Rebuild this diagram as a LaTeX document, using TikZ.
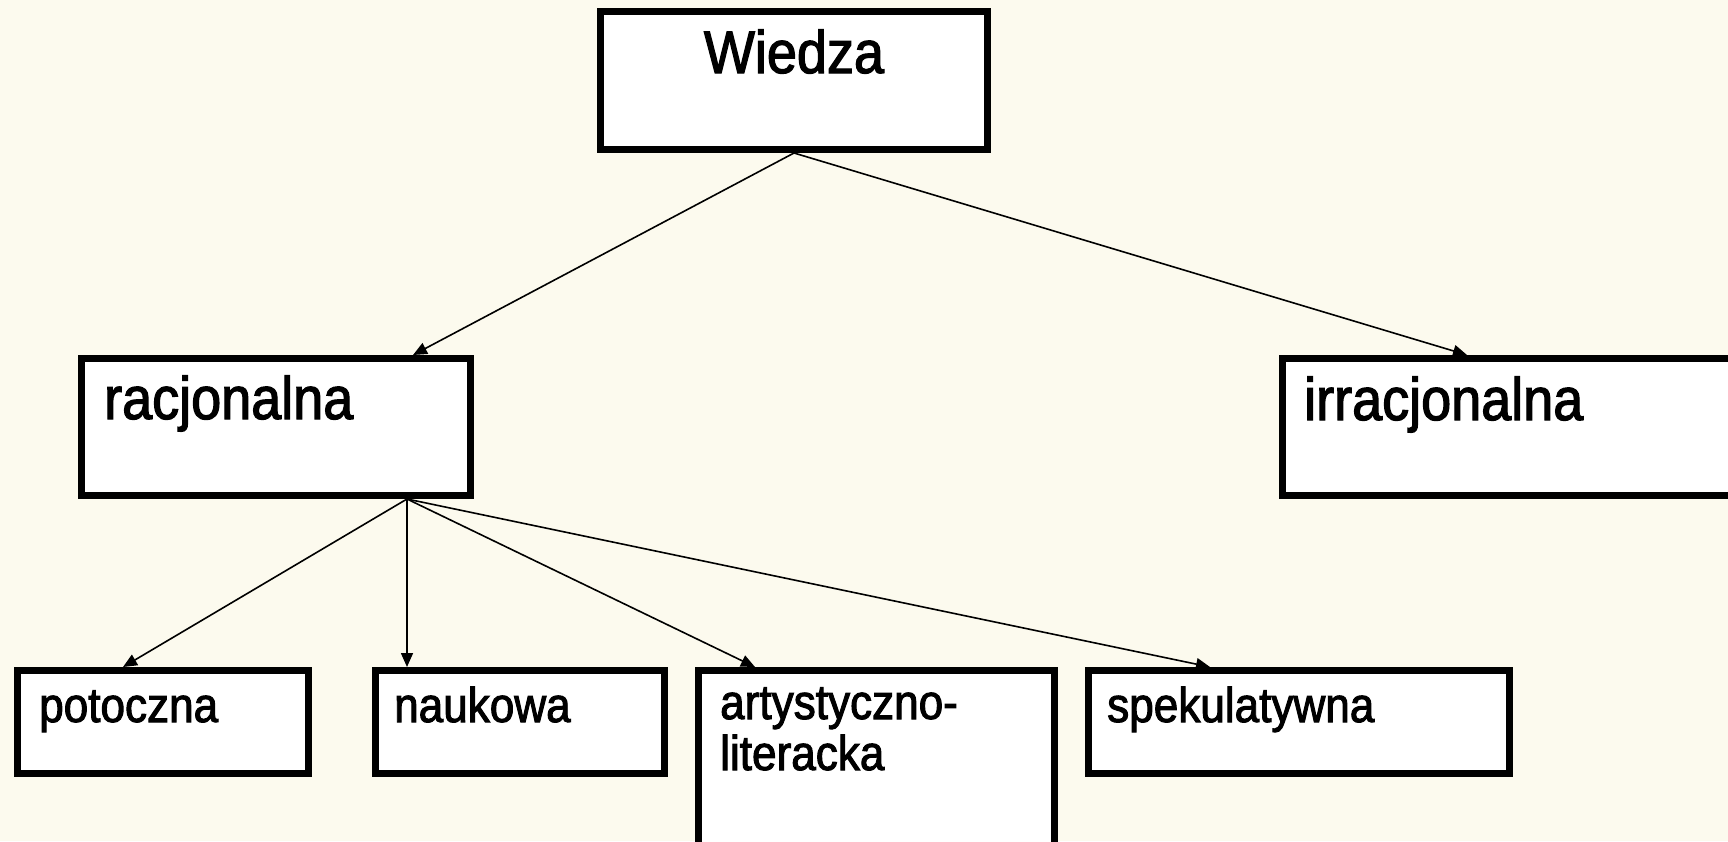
\documentclass[tikz,border=0pt]{standalone}
\usepackage{fontspec}
\setmainfont{Liberation Sans}[FakeStretch=0.9,FakeBold=2]
\usetikzlibrary{arrows.meta}
\definecolor{paper}{RGB}{252,250,238}
\begin{document}
\begin{tikzpicture}[x=1pt,y=-1pt,
  box/.style={draw=black, fill=white, line width=7pt, rectangle, inner sep=0pt},
  big/.style={inner sep=0pt, font=\fontsize{60}{66}\selectfont},
  small/.style={inner sep=0pt, font=\fontsize{49}{51}\selectfont},
  link/.style={line width=1.6pt, -{Triangle[length=14pt,width=12pt]}}]
\useasboundingbox (0,0) rectangle (1728,841);
\fill[paper] (0,0) rectangle (1728,841);
\clip (0,0) rectangle (1728,841);

% boxes
\node[box, minimum width=387pt, minimum height=138pt] (wiedza) at (794,80.5) {};
\node[box, minimum width=389pt, minimum height=137pt] (rac) at (276,427) {};
\node[box, minimum width=480pt, minimum height=137pt] (irr) at (1522.5,427) {};
\node[box, minimum width=291pt, minimum height=103pt] (pot) at (163,722) {};
\node[box, minimum width=289pt, minimum height=103pt] (nauk) at (520,722) {};
\node[box, minimum width=356pt, minimum height=226pt] (art) at (876.5,783.5) {};
\node[box, minimum width=421pt, minimum height=103pt] (spek) at (1299,722) {};

% labels
\node[big, anchor=base] (tw) at (794,73) {Wiedza};
\node[big, anchor=base west] (trac) at (104,419) {racjonalna};
\node[big, anchor=base west] (tirr) at (1304,420) {irracjonalna};
\node[small, anchor=base west] (tpot) at (39,722) {potoczna};
\node[small, anchor=base west] (tnauk) at (394,722) {naukowa};
\node[small, anchor=base west] (tart1) at (720,719) {artystyczno-};
\node[small, anchor=base west] (tart2) at (720,770) {literacka};
\node[small, anchor=base west] (tspek) at (1107,722) {spekulatywna};

% connectors
\draw[link] (wiedza.south) -- ([xshift=137pt]rac.north);
\draw[link] (wiedza.south) -- ([xshift=-55.5pt]irr.north);
\draw[link] ([xshift=131pt]rac.south) -- ([xshift=-40pt]pot.north);
\draw[link] ([xshift=131pt]rac.south) -- ([xshift=-113pt]nauk.north);
\draw[link] ([xshift=131pt]rac.south) -- ([xshift=-121.5pt]art.north);
\draw[link] ([xshift=131pt]rac.south) -- ([xshift=-89pt]spek.north);
\end{tikzpicture}
\end{document}
